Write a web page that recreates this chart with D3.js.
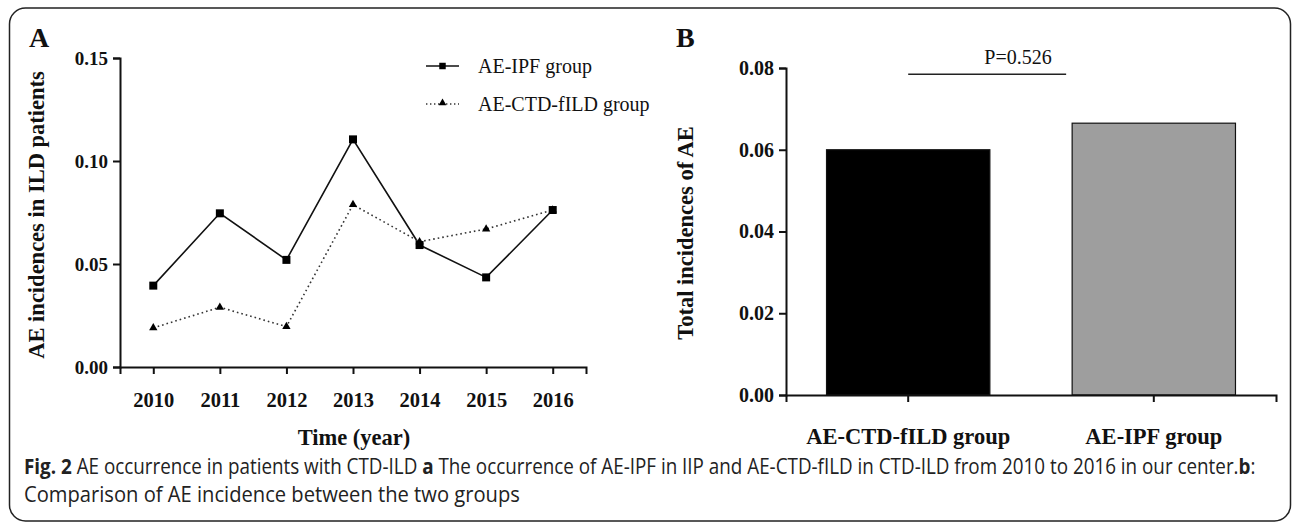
<!DOCTYPE html>
<html>
<head>
<meta charset="utf-8">
<script src="https://cdn.jsdelivr.net/npm/d3@7"></script>
<style>
  body { margin: 0; background: #fff; }
  svg { display: block; }
  .axis path, .axis line { stroke: #111; stroke-width: 2; }
  .axis text { font-family: "Liberation Serif", serif; font-weight: bold; font-size: 19px; fill: #111; }
  .title { font-family: "Liberation Serif", serif; font-weight: bold; font-size: 22.5px; fill: #111; }
  .panel { font-family: "Liberation Serif", serif; font-weight: bold; font-size: 28px; fill: #111; }
  .legend { font-family: "Liberation Serif", serif; font-size: 20px; fill: #111; }
  .caption { font-family: "Open Sans", sans-serif; font-size: 21px; fill: #222; }
</style>
</head>
<body>
<div id="chart"></div>
<script>
// Panel A data
const years = ["2010", "2011", "2012", "2013", "2014", "2015", "2016"];
const ipfValues = [0.0395, 0.0746, 0.052, 0.1105, 0.0592, 0.0435, 0.0762];
const ctdValues = [0.019, 0.029, 0.0196, 0.0788, 0.0608, 0.067, 0.0762];
const yTicksA = [0, 0.05, 0.10, 0.15];

// Panel B data
const groups = ["AE-CTD-fILD group", "AE-IPF group"];
const totals = [0.060, 0.0665];
const barColours = ["#000000", "#9e9e9e"];
const yTicksB = [0, 0.02, 0.04, 0.06, 0.08];
const pLabel = "P=0.526";

const width = 1292, height = 523;

const svg = d3.select("#chart").append("svg")
  .attr("width", width)
  .attr("height", height);

// outer frame
svg.append("rect")
  .attr("x", 9.5).attr("y", 8)
  .attr("width", 1281).attr("height", 513)
  .attr("rx", 16).attr("ry", 16)
  .attr("fill", "none")
  .attr("stroke", "#222")
  .attr("stroke-width", 1.5);

// ---------- Panel A: line chart ----------
const xA = d3.scalePoint().domain(years).range([120, 586]).padding(0.5);
const yA = d3.scaleLinear().domain([0, 0.15]).range([367, 58]);

svg.append("g")
  .attr("class", "axis")
  .attr("transform", "translate(0,367)")
  .call(d3.axisBottom(xA).tickSizeOuter(0).tickSize(7).tickPadding(18))
  .call(g => g.selectAll("text").attr("dy", "0.71em").style("font-size", "20.5px"));

svg.append("g")
  .attr("class", "axis")
  .attr("transform", "translate(120,0)")
  .call(d3.axisLeft(yA).tickValues(yTicksA).tickSizeOuter(0).tickSize(7).tickPadding(5)
    .tickFormat(d3.format(".2f")));

const lineA = d3.line().x((d, i) => xA(years[i])).y(d => yA(d));

svg.append("path")
  .datum(ipfValues)
  .attr("d", lineA)
  .attr("fill", "none")
  .attr("stroke", "#111")
  .attr("stroke-width", 1.6);

svg.append("path")
  .datum(ctdValues)
  .attr("d", lineA)
  .attr("fill", "none")
  .attr("stroke", "#333")
  .attr("stroke-width", 1.6)
  .attr("stroke-dasharray", "1.6,3");

const square = d3.symbol().type(d3.symbolSquare).size(64);
const triangle = d3.symbol().type(d3.symbolTriangle).size(30);

svg.selectAll(".ipf-pt")
  .data(ipfValues)
  .join("path")
  .attr("class", "ipf-pt")
  .attr("d", square)
  .attr("transform", (d, i) => `translate(${xA(years[i])},${yA(d)})`)
  .attr("fill", "#000");

svg.selectAll(".ctd-pt")
  .data(ctdValues)
  .join("path")
  .attr("class", "ctd-pt")
  .attr("d", triangle)
  .attr("transform", (d, i) => `translate(${xA(years[i])},${yA(d)})`)
  .attr("fill", "#000");

// legend
const legend = svg.append("g").attr("transform", "translate(426,66)");
legend.append("line").attr("x1", 0).attr("x2", 33).attr("y1", 0).attr("y2", 0)
  .attr("stroke", "#111").attr("stroke-width", 1.6);
legend.append("path").attr("d", d3.symbol().type(d3.symbolSquare).size(42))
  .attr("transform", "translate(16.5,0)");
legend.append("text").attr("class", "legend").attr("x", 52).attr("y", 7).text("AE-IPF group");

legend.append("line").attr("x1", 0).attr("x2", 33).attr("y1", 38).attr("y2", 38)
  .attr("stroke", "#333").attr("stroke-width", 1.4).attr("stroke-dasharray", "1.4,2.6");
legend.append("path").attr("d", d3.symbol().type(d3.symbolTriangle).size(26))
  .attr("transform", "translate(16.5,37)");
legend.append("text").attr("class", "legend").attr("x", 52).attr("y", 45).text("AE-CTD-fILD group");

svg.append("text").attr("class", "title")
  .attr("text-anchor", "middle")
  .attr("x", 354).attr("y", 445)
  .text("Time (year)");

svg.append("text").attr("class", "title")
  .attr("text-anchor", "middle")
  .attr("transform", "translate(44,215) rotate(-90)")
  .text("AE incidences in ILD patients");

svg.append("text").attr("class", "panel").attr("x", 29).attr("y", 47).text("A");

// ---------- Panel B: bar chart ----------
const xB = d3.scaleBand().domain(groups).range([786, 1276])
  .paddingInner(0.335).paddingOuter(0.165);
const yB = d3.scaleLinear().domain([0, 0.08]).range([395, 68]);

svg.selectAll(".bar")
  .data(totals)
  .join("rect")
  .attr("class", "bar")
  .attr("x", (d, i) => xB(groups[i]))
  .attr("y", d => yB(d))
  .attr("width", xB.bandwidth())
  .attr("height", d => yB(0) - yB(d))
  .attr("fill", (d, i) => barColours[i])
  .attr("stroke", "#111")
  .attr("stroke-width", 1.2);

svg.append("g")
  .attr("class", "axis")
  .attr("transform", "translate(0,395)")
  .call(d3.axisBottom(xB).tickSizeOuter(0).tickSize(7).tickPadding(26))
  .call(g => g.selectAll("text").attr("dy", "0.71em").style("font-size", "22.5px"));

svg.append("g")
  .attr("class", "axis")
  .attr("transform", "translate(786,0)")
  .call(d3.axisLeft(yB).tickValues(yTicksB).tickSizeOuter(0).tickSize(7).tickPadding(5)
    .tickFormat(d3.format(".2f")))
  .call(g => g.selectAll("text").style("font-size", "20px"));

// significance bracket
const pY = yB(0.0785);
svg.append("line")
  .attr("x1", xB(groups[0]) + xB.bandwidth() / 2)
  .attr("x2", xB(groups[1]) - 6)
  .attr("y1", pY).attr("y2", pY)
  .attr("stroke", "#222").attr("stroke-width", 1.5);
svg.append("text").attr("class", "legend")
  .attr("text-anchor", "middle")
  .attr("x", 1018).attr("y", 64)
  .text(pLabel);

svg.append("text").attr("class", "title")
  .attr("text-anchor", "middle")
  .attr("transform", "translate(693,233) rotate(-90)")
  .text("Total incidences of AE");

svg.append("text").attr("class", "panel").attr("x", 676).attr("y", 47).text("B");

// ---------- caption ----------
// the original uses a condensed face, so squeeze each line horizontally to its width
function captionLine(y, targetWidth, parts) {
  const g = svg.append("g");
  const t = g.append("text").attr("class", "caption").attr("x", 0).attr("y", 0);
  parts.forEach(p => {
    t.append("tspan").attr("font-weight", p.bold ? "bold" : null).text(p.text);
  });
  const natural = t.node().getComputedTextLength();
  g.attr("transform", `translate(24,${y}) scale(${targetWidth / natural},1)`);
}

captionLine(474, 1232, [
  { text: "Fig. 2", bold: true },
  { text: " AE occurrence in patients with CTD-ILD " },
  { text: "a", bold: true },
  { text: " The occurrence of AE-IPF in IIP and AE-CTD-fILD in CTD-ILD from 2010 to 2016 in our center." },
  { text: "b", bold: true },
  { text: ":" }
]);

captionLine(502, 496, [
  { text: "Comparison of AE incidence between the two groups" }
]);
</script>
</body>
</html>
